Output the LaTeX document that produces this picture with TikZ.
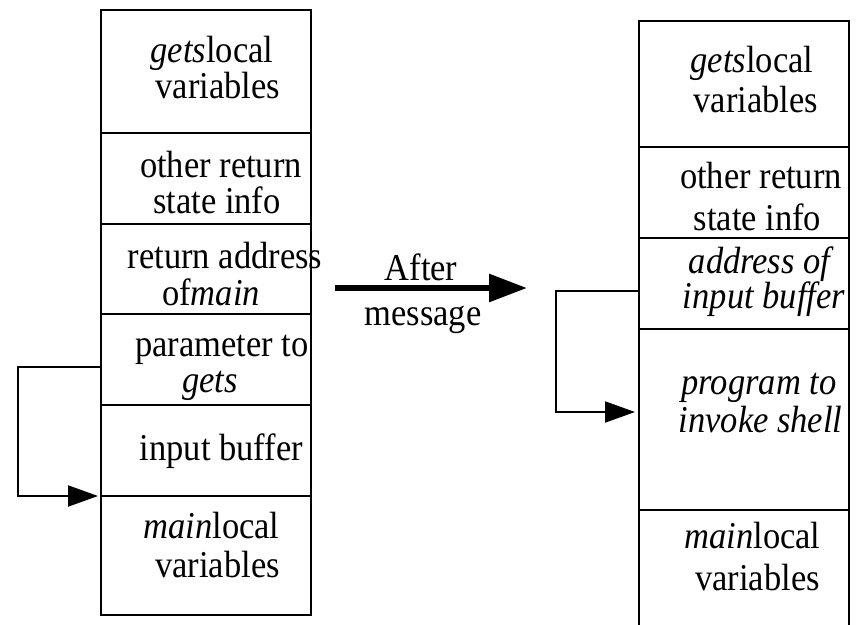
\documentclass[tikz,border=0pt]{standalone}
\usepackage{fontspec}
\setmainfont{Liberation Serif}
\usetikzlibrary{arrows.meta}
\begin{document}
\begin{tikzpicture}[x=1pt,y=-1pt,
  cell/.style={draw=black, line width=2.6pt, minimum width=210pt, inner sep=0pt, outer sep=0pt},
  txt/.style={anchor=base, inner sep=0pt, yscale=1.1, font=\fontsize{34.5}{40}\selectfont},
  loopline/.style={draw=black, line width=2pt, -{Triangle[length=30pt,width=21pt]}},
  bigarrow/.style={draw=black, line width=6pt, -{Triangle[length=38pt,width=27pt]}}]
\useasboundingbox[fill=white] (0,0) rectangle (856,624);
% left stack
\node[cell, minimum height=123pt] (L1) at (206,71.5) {};
\node[cell, minimum height=91pt] (L2) at (206,178.5) {};
\node[cell, minimum height=90pt] (L3) at (206,269) {};
\node[cell, minimum height=91pt] (L4) at (206,359.5) {};
\node[cell, minimum height=91pt] (L5) at (206,450.5) {};
\node[cell, minimum height=119pt] (L6) at (206,555.5) {};
% right stack
\node[cell, minimum height=126pt] (R1) at (744,84) {};
\node[cell, minimum height=91pt] (R2) at (744,192.5) {};
\node[cell, minimum height=91pt] (R3) at (744,283.5) {};
\node[cell, minimum height=181pt] (R4) at (744,419.5) {};
\node[minimum width=210pt, minimum height=120pt, inner sep=0pt, outer sep=0pt] (R5) at (744,570) {};
\draw[line width=2.6pt] (R5.south west) -- (R5.north west) -- (R5.north east) -- (R5.south east);
% left texts
\node[txt] (tL1a) at (212,62) {\textit{gets}local};
\node[txt] (tL1b) at (218,98) {variables};
\node[txt] (tL2a) at (221,177) {other return};
\node[txt] (tL2b) at (217,213) {state info};
\node[txt] (tL3a) at (225,268) {return address};
\node[txt] (tL3b) at (211,305) {of\textit{main}};
\node[txt] (tL4a) at (222,356) {parameter to};
\node[txt] (tL4b) at (210,392) {\textit{gets}};
\node[txt] (tL5a) at (221.5,460) {input buffer};
\node[txt] (tL6a) at (211.5,538) {\textit{main}local};
\node[txt] (tL6b) at (217.5,577) {variables};
% right texts
\node[txt] (tR1a) at (752,72) {\textit{gets}local};
\node[txt] (tR1b) at (756,112) {variables};
\node[txt] (tR2a) at (761,188) {other return};
\node[txt] (tR2b) at (757.5,230) {state info};
\node[txt] (tR3a) at (761.5,273) {\textit{address of}};
\node[txt] (tR3b) at (764,308) {\textit{input buffer}};
\node[txt] (tR4a) at (759,394) {\textit{program to}};
\node[txt] (tR4b) at (760.5,432) {\textit{invoke shell}};
\node[txt] (tR5a) at (752.5,548) {\textit{main}local};
\node[txt] (tR5b) at (757.5,590) {variables};
% middle
\node[txt] (after) at (421,280) {After};
\node[txt] (msg) at (423,325) {message};
\coordinate (mS) at (335,288);
\coordinate (mE) at (527,288);
\draw[bigarrow] (mS) -- (mE);
% left loop
\coordinate (lA) at (L4.west |- 0,367);
\coordinate (lB) at (18,367);
\coordinate (lC) at (18,496);
\coordinate (lD) at (L6.north west);
\draw[loopline, shorten >=3pt] (lA) -- (lB) -- (lC) -- (lD);
% right loop
\coordinate (rA) at (R3.west |- 0,291);
\coordinate (rB) at (556,291);
\coordinate (rC) at (556,412);
\coordinate (rD) at (R4.west |- 0,412);
\draw[loopline, shorten >=4pt] (rA) -- (rB) -- (rC) -- (rD);
\end{tikzpicture}
\end{document}
